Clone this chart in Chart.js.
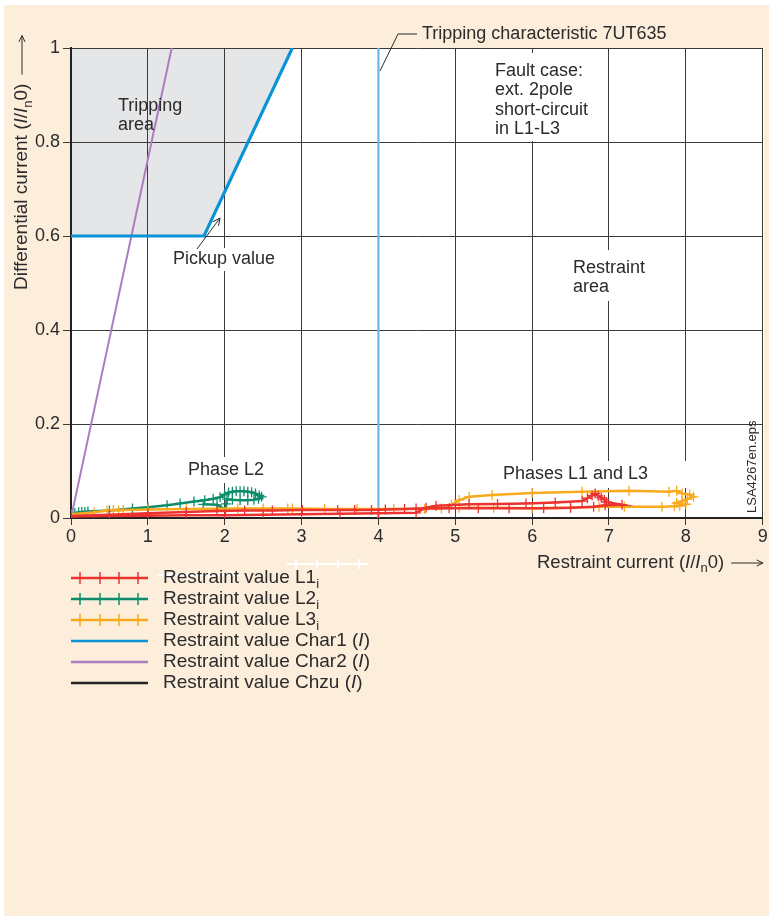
<!DOCTYPE html>
<html>
<head>
<meta charset="utf-8">
<script src="https://cdn.jsdelivr.net/npm/chart.js@4.4.0/dist/chart.umd.min.js"></script>
<style>
body { margin: 0; background: #fff; }
#wrap { position: relative; width: 769px; height: 921px; overflow: hidden; }
#paper { position: absolute; left: 4px; top: 5px; width: 765px; height: 911px; background: #fdeedc; }
#plot { position: absolute; left: 71px; top: 48px; width: 693px; height: 470px; background: #fff; }
canvas { position: absolute; left: 0; top: 0; }
</style>
</head>
<body>
<div id="wrap">
  <div id="paper"></div>
  <div id="plot"></div>
  <canvas id="chart" width="769" height="921"></canvas>
</div>
<script>
// tripping characteristic
const char1X = [0, 1.73, 2.88];
const char1Y = [0.6, 0.6, 1];
const char2X = [0, 1.31];
const char2Y = [0, 1];
const limitX = [4, 4];
const limitY = [0, 1];

// measured restraint values
const l1X = [0, 0.5, 1, 1.5, 2, 2.5, 3, 3.5, 4, 4.49, 4.62, 4.75, 5.18, 5.55, 5.92, 6.3, 6.65, 6.72, 6.78, 6.82, 6.86, 6.9, 6.94, 6.97, 7.17, 6.95, 6.8, 6.5, 6.15, 5.7, 5.3, 4.92, 4.49, 4.34, 4.09, 3.91, 3.69, 3.47, 3.01, 2.62, 2.26, 1.9, 1.5, 1.0, 0.5, 0];
const l1Y = [0.003, 0.004, 0.005, 0.006, 0.006, 0.007, 0.008, 0.009, 0.01, 0.011, 0.022, 0.026, 0.029, 0.03, 0.031, 0.033, 0.036, 0.042, 0.048, 0.052, 0.047, 0.043, 0.039, 0.034, 0.028, 0.027, 0.024, 0.022, 0.021, 0.021, 0.021, 0.021, 0.02, 0.019, 0.018, 0.017, 0.017, 0.017, 0.017, 0.016, 0.016, 0.015, 0.013, 0.01, 0.007, 0.004];

const l2X = [0.05, 0.1, 0.14, 0.18, 0.22, 0.5, 0.8, 1.0, 1.25, 1.42, 1.6, 1.74, 1.85, 1.94, 2.0, 2.05, 2.1, 2.15, 2.2, 2.25, 2.3, 2.35, 2.4, 2.45, 2.48, 2.44, 2.38, 2.3, 2.2, 2.1, 2.03, 2.02, 2.01, 1.9, 1.72];
const l2Y = [0.01, 0.012, 0.013, 0.013, 0.014, 0.016, 0.02, 0.023, 0.027, 0.031, 0.035, 0.038, 0.041, 0.044, 0.05, 0.054, 0.056, 0.057, 0.057, 0.057, 0.056, 0.055, 0.052, 0.048, 0.045, 0.041, 0.039, 0.038, 0.038, 0.039, 0.04, 0.03, 0.018, 0.028, 0.029];

const l3X = [0, 0.3, 0.47, 0.55, 0.62, 0.68, 1.0, 1.5, 2.17, 2.5, 2.82, 2.88, 3.3, 3.72, 4.2, 4.6, 4.82, 4.95, 5.05, 5.18, 5.48, 6.0, 6.65, 7.26, 7.78, 7.88, 7.95, 8.05, 8.1, 8.02, 7.95, 7.88, 8.0, 7.92, 7.85, 7.69, 7.2, 6.87, 6.5, 6.0, 5.5, 5.05];
const l3Y = [0.008, 0.012, 0.016, 0.017, 0.016, 0.017, 0.018, 0.019, 0.02, 0.02, 0.02, 0.02, 0.019, 0.019, 0.019, 0.019, 0.02, 0.028, 0.038, 0.045, 0.049, 0.053, 0.056, 0.058, 0.056, 0.058, 0.052, 0.05, 0.045, 0.04, 0.036, 0.032, 0.029, 0.026, 0.025, 0.024, 0.024, 0.024, 0.022, 0.021, 0.022, 0.022];

const legendItems = [
    { label: [["Restraint value L1", "n"], ["i", "sub"]], color: "#ec3330", marks: true },
    { label: [["Restraint value L2", "n"], ["i", "sub"]], color: "#0b8d6c", marks: true },
    { label: [["Restraint value L3", "n"], ["i", "sub"]], color: "#f8aa1c", marks: true },
    { label: [["Restraint value Char1 (", "n"], ["I", "i"], [")", "n"]], color: "#0a94d8", marks: false },
    { label: [["Restraint value Char2 (", "n"], ["I", "i"], [")", "n"]], color: "#ac7dc0", marks: false },
    { label: [["Restraint value Chzu (", "n"], ["I", "i"], [")", "n"]], color: "#222222", marks: false }
];

const FONT = '"Liberation Sans", Arial, sans-serif';
const TEXT = "#2b2b2b";

function pts(xs, ys) {
    return xs.map((x, i) => ({ x: x, y: ys[i] }));
}

function drawRich(ctx, parts, x, y, size) {
    ctx.fillStyle = TEXT;
    ctx.textBaseline = "middle";
    ctx.textAlign = "left";
    let cx = x;
    for (const [t, s] of parts) {
        if (s === "sub") {
            ctx.font = Math.round(size * 0.68) + "px " + FONT;
            ctx.fillText(t, cx, y + size * 0.32);
        } else {
            ctx.font = (s === "i" ? "italic " : "") + size + "px " + FONT;
            ctx.fillText(t, cx, y);
        }
        cx += ctx.measureText(t).width;
    }
    return cx;
}

function drawArrow(ctx, x1, y1, x2, y2, head) {
    const a = Math.atan2(y2 - y1, x2 - x1);
    ctx.beginPath();
    ctx.moveTo(x1, y1);
    ctx.lineTo(x2, y2);
    ctx.moveTo(x2 - head * Math.cos(a - 0.45), y2 - head * Math.sin(a - 0.45));
    ctx.lineTo(x2, y2);
    ctx.lineTo(x2 - head * Math.cos(a + 0.45), y2 - head * Math.sin(a + 0.45));
    ctx.stroke();
}

function lines(ctx, arr, x, y, gap) {
    ctx.fillStyle = TEXT;
    ctx.font = "18px " + FONT;
    ctx.textBaseline = "middle";
    ctx.textAlign = "left";
    arr.forEach((t, i) => ctx.fillText(t, x, y + i * gap));
}

const annotations = {
    id: "annotations",
    beforeDatasetsDraw(chart) {
        // text boxes knock out the grid lines
        const ctx = chart.ctx;
        ctx.save();
        ctx.fillStyle = "#fff";
        ctx.fillRect(490, 53, 110, 88);
        ctx.fillRect(566, 250, 86, 51);
        ctx.fillRect(183, 457, 86, 26);
        ctx.fillRect(498, 461, 196, 27);
        ctx.fillRect(168, 248, 112, 23);
        ctx.restore();
    },
    afterDraw(chart) {
        const ctx = chart.ctx;
        ctx.save();
        ctx.strokeStyle = TEXT;
        ctx.lineWidth = 1;

        lines(ctx, ["Tripping", "area"], 118, 106, 19.5);
        lines(ctx, ["Pickup value"], 173, 259, 20);
        drawArrow(ctx, 197, 249, 220, 218, 8);

        lines(ctx, ["Tripping characteristic 7UT635"], 422, 34, 20);
        ctx.beginPath();
        ctx.moveTo(380, 71);
        ctx.lineTo(398, 34);
        ctx.lineTo(417, 34);
        ctx.stroke();

        lines(ctx, ["Fault case:", "ext. 2pole", "short-circuit", "in L1-L3"], 495, 71, 19.5);
        lines(ctx, ["Restraint", "area"], 573, 268, 19.5);
        lines(ctx, ["Phase L2"], 188, 470, 20);
        lines(ctx, ["Phases L1 and L3"], 503, 474, 20);

        // file tag
        ctx.save();
        ctx.translate(752, 513);
        ctx.rotate(-Math.PI / 2);
        ctx.font = "13px " + FONT;
        ctx.fillStyle = TEXT;
        ctx.textBaseline = "middle";
        ctx.fillText("LSA4267en.eps", 0, 0);
        ctx.restore();

        // axis titles
        ctx.save();
        ctx.translate(22, 290);
        ctx.rotate(-Math.PI / 2);
        let end = drawRich(ctx, [["Differential current (", "n"], ["I", "i"], ["/", "n"], ["I", "i"], ["n", "sub"], ["0)", "n"]], 0, 0, 19);
        drawArrow(ctx, end + 9, 0, end + 48, 0, 7);
        ctx.restore();

        end = drawRich(ctx, [["Restraint current (", "n"], ["I", "i"], ["/", "n"], ["I", "i"], ["n", "sub"], ["0)", "n"]], 537, 563, 18.5);
        drawArrow(ctx, end + 7, 563, 763, 563, 7);

        // stray white marks under the axis
        ctx.strokeStyle = "#fff";
        ctx.lineWidth = 2;
        [[157, 240, 575], [287, 368, 564]].forEach(([a, b, y]) => {
            ctx.beginPath();
            ctx.moveTo(a, y); ctx.lineTo(b, y);
            for (let k = 0; k < 4; k++) {
                const px = a + 9 + k * (b - a - 18) / 3;
                ctx.moveTo(px, y - 5); ctx.lineTo(px, y + 5);
            }
            ctx.stroke();
        });

        // legend
        legendItems.forEach((it, i) => {
            const y = 578 + i * 21;
            ctx.strokeStyle = it.color;
            ctx.lineWidth = 2.5;
            ctx.beginPath();
            ctx.moveTo(71, y);
            ctx.lineTo(148, y);
            ctx.stroke();
            if (it.marks) {
                ctx.lineWidth = 1.5;
                ctx.beginPath();
                [80, 100, 119, 138].forEach(px => { ctx.moveTo(px, y - 6); ctx.lineTo(px, y + 6); });
                ctx.stroke();
            }
            drawRich(ctx, it.label, 163, y, 19);
        });
        ctx.restore();
    }
};

function series(xs, ys, color, order) {
    return {
        data: pts(xs, ys),
        showLine: true,
        borderColor: color,
        backgroundColor: color,
        borderWidth: 2.5,
        pointStyle: "cross",
        pointRadius: 5,
        pointBorderWidth: 1.3,
        pointBorderColor: color,
        order: order
    };
}

new Chart(document.getElementById("chart"), {
    type: "scatter",
    data: {
        datasets: [
            series(l1X, l1Y, "#ec3330", 1),
            series(l3X, l3Y, "#f8aa1c", 2),
            series(l2X, l2Y, "#0b8d6c", 3),
            { data: pts(char1X, char1Y), showLine: true, borderColor: "#0a94d8", borderWidth: 3.2, pointRadius: 0, fill: "end", backgroundColor: "#e5e6e8", order: 4 },
            { data: pts(char2X, char2Y), showLine: true, borderColor: "#ac7dc0", borderWidth: 2, pointRadius: 0, order: 5 },
            { data: pts(limitX, limitY), showLine: true, borderColor: "#6cb6e6", borderWidth: 2.2, pointRadius: 0, order: 6 }
        ]
    },
    options: {
        responsive: false,
        animation: false,
        devicePixelRatio: 1,
        layout: { padding: { top: 48, right: 5, left: 0, bottom: 0 } },
        plugins: {
            legend: { display: false },
            tooltip: { enabled: false },
            filler: { drawTime: "beforeDraw" }
        },
        scales: {
            x: {
                type: "linear",
                min: 0, max: 9,
                ticks: { stepSize: 1, color: TEXT, font: { family: FONT, size: 18 }, padding: 1, maxRotation: 0 },
                grid: { color: "#3a3a3a", lineWidth: 1, tickLength: 7, tickColor: "#3a3a3a" },
                border: { color: "#222", width: 2 },
                afterFit(scale) { scale.height = 403; }
            },
            y: {
                type: "linear",
                min: 0, max: 1,
                ticks: {
                    stepSize: 0.2, color: TEXT, font: { family: FONT, size: 18 }, padding: 3,
                    callback: v => String(Number(v.toFixed(1)))
                },
                grid: { color: "#3a3a3a", lineWidth: 1, tickLength: 8, tickColor: "#3a3a3a" },
                border: { color: "#222", width: 2 },
                afterFit(scale) { scale.width = 71; }
            }
        }
    },
    plugins: [annotations]
});
</script>
</body>
</html>
